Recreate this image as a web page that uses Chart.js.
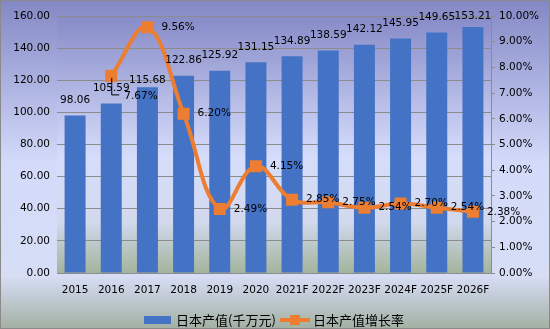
<!DOCTYPE html>
<html><head><meta charset="utf-8">
<script src="https://cdn.jsdelivr.net/npm/chart.js@4"></script>
<style>html,body{margin:0;padding:0;background:#fff}#wrap{width:550px;height:329px;position:relative}</style>
</head><body><div id="wrap"><canvas id="c" width="550" height="329"></canvas></div>
<script>
const categories = ['2015','2016','2017','2018','2019','2020','2021F','2022F','2023F','2024F','2025F','2026F'];
const outputValues = [98.06,105.59,115.68,122.86,125.92,131.15,134.89,138.59,142.12,145.95,149.65,153.21];
const growthRates = [null,7.67,9.56,6.20,2.49,4.15,2.85,2.75,2.54,2.70,2.54,2.38];
const seriesNames = ['日本产值(千万元)','日本产值增长率'];

const FONT = 'DejaVu Sans';
const CJK = '"Noto Sans CJK SC"';

const bgPlugin = {
  id:'bg',
  beforeDraw(chart){
    const {ctx, chartArea:a, width, height} = chart;
    ctx.save();
    let g = ctx.createLinearGradient(0,0,0,height);
    g.addColorStop(0,'#8388c5');
    g.addColorStop(0.5,'#d4dbfa');
    g.addColorStop(0.84,'#d6ddf5');
    g.addColorStop(1,'#a2b0a2');
    ctx.fillStyle = g; ctx.fillRect(0,0,width,height);
    g = ctx.createLinearGradient(0,a.top,0,a.bottom);
    g.addColorStop(0,'#878bc8');
    g.addColorStop(0.55,'#d6ddfb');
    g.addColorStop(0.8,'#d2d9ee');
    g.addColorStop(1,'#a3b49c');
    ctx.fillStyle = g; ctx.fillRect(a.left,a.top,a.right-a.left,a.bottom-a.top);
    ctx.restore();
  },
  afterDraw(chart){
    const {ctx,width,height} = chart;
    ctx.save();
    ctx.strokeStyle = '#8a8a8a'; ctx.lineWidth = 1;
    ctx.strokeRect(0.5,0.5,width-1,height-1);
    // legend
    const ly = 320;
    ctx.fillStyle = '#4472C4';
    ctx.fillRect(144, ly-4, 27, 8);
    ctx.fillStyle = '#000';
    ctx.font = '13px ' + CJK;
    ctx.textBaseline = 'middle'; ctx.textAlign = 'left';
    ctx.fillText(seriesNames[0], 176, ly);
    ctx.strokeStyle = '#ED7D31'; ctx.lineWidth = 4;
    ctx.beginPath(); ctx.moveTo(280, ly); ctx.lineTo(310, ly); ctx.stroke();
    ctx.fillStyle = '#ED7D31'; ctx.fillRect(290, ly-5, 10, 10);
    ctx.fillStyle = '#000';
    ctx.fillText(seriesNames[1], 313, ly);
    ctx.restore();
  },
  afterDatasetsDraw(chart){
    const {ctx} = chart;
    ctx.save();
    ctx.font = '10.5px ' + FONT;
    ctx.fillStyle = '#000';
    ctx.textBaseline = 'middle';
    // bar labels
    const barMeta = chart.getDatasetMeta(0);
    ctx.textAlign = 'center';
    barMeta.data.forEach((el,i)=>{
      let y = el.y - 15;
      if (i === 2) y = el.y - 7;
      y = Math.max(y, 16);
      ctx.fillText(outputValues[i].toFixed(2), el.x, y);
    });
    // line labels
    const lineMeta = chart.getDatasetMeta(1);
    ctx.textAlign = 'left';
    lineMeta.data.forEach((el,i)=>{
      const v = growthRates[i];
      if (v === null || el.skip) return;
      if (i === 1) {
        ctx.strokeStyle = '#000'; ctx.lineWidth = 1;
        ctx.beginPath();
        ctx.moveTo(el.x+0.5, el.y+2); ctx.lineTo(el.x+0.5, el.y+19); ctx.lineTo(el.x+8, el.y+19);
        ctx.stroke();
        ctx.fillText(v.toFixed(2)+'%', el.x+13, el.y+20);
      } else {
        ctx.fillText(v.toFixed(2)+'%', el.x+14, el.y);
      }
    });
    ctx.restore();
  }
};

new Chart(document.getElementById('c'), {
  data:{
    labels: categories,
    datasets:[
      {type:'bar', label:seriesNames[0], data:outputValues, yAxisID:'y', backgroundColor:'#4472C4',
       barPercentage:0.58, categoryPercentage:1, order:1},
      {type:'line', label:seriesNames[1], data:growthRates, yAxisID:'y1', borderColor:'#ED7D31',
       backgroundColor:'#ED7D31', borderWidth:4, tension:0.4, pointStyle:'rect', pointRadius:8.5,
       pointBorderWidth:0, pointBackgroundColor:'#ED7D31', spanGaps:true, order:0}
    ]
  },
  options:{
    responsive:false, animation:false,
    devicePixelRatio:1,
    layout:{padding:{top:16,left:0,right:0,bottom:0}},
    plugins:{legend:{display:false}, tooltip:{enabled:false}},
    scales:{
      x:{
        grid:{display:false, drawTicks:false},
        border:{display:false},
        ticks:{font:{family:FONT,size:10.5}, color:'#000', padding:11, maxRotation:0, autoSkip:false},
        afterFit(s){ s.height = 56; }
      },
      y:{
        position:'left', min:0, max:160,
        ticks:{stepSize:20, font:{family:FONT,size:10.5}, color:'#000', padding:7,
               callback:v=>v.toFixed(2)},
        grid:{color:'#8c8c8c', drawTicks:false, lineWidth:1},
        border:{display:false},
        afterFit(s){ s.width = 57; }
      },
      y1:{
        position:'right', min:0, max:10,
        ticks:{stepSize:1, font:{family:FONT,size:10.5}, color:'#000', padding:4,
               callback:v=>v.toFixed(2)+'%'},
        grid:{drawOnChartArea:false, drawTicks:true, tickLength:4, color:'#8c8c8c'},
        border:{display:true, color:'#8c8c8c'},
        afterFit(s){ s.width = 59; }
      }
    }
  },
  plugins:[bgPlugin]
});
</script></body></html>
